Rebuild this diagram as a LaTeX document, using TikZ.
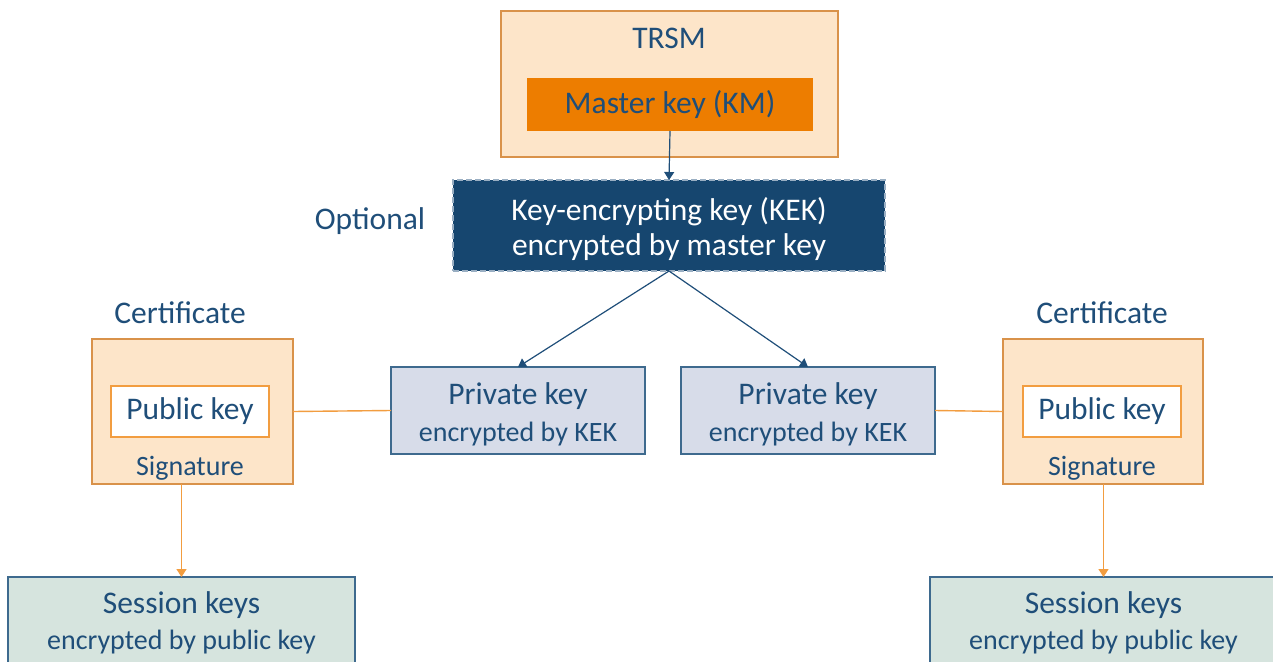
\documentclass[tikz,border=0pt]{standalone}
\usepackage{fontspec}
\setmainfont{Carlito}
\usetikzlibrary{arrows.meta}

\definecolor{kblue}{HTML}{1F4E79}
\definecolor{kekfill}{HTML}{16466F}
\definecolor{korange}{HTML}{ED7D00}
\definecolor{certfill}{HTML}{FDE5C9}
\definecolor{certline}{HTML}{D9924A}
\definecolor{privfill}{HTML}{D7DCE9}
\definecolor{sessfill}{HTML}{D6E4DE}
\definecolor{boxline}{HTML}{3E6A8E}

\newcommand{\smalltext}[1]{{\fontsize{28}{34}\selectfont #1}}
\newcommand{\lowered}[1]{\raisebox{-4pt}[\height][\depth]{#1}}

\tikzset{
  big/.style={font=\fontsize{31.5}{36}\selectfont},
  small/.style={font=\fontsize{28}{34}\selectfont},
  box/.style={inner sep=0pt, outer sep=0pt, line width=1.2pt},
  certbox/.style={box, draw=certline, fill=certfill},
  keybox/.style={box, draw=boxline, fill=privfill, align=center, text=kblue, font=\fontsize{31.5}{37}\selectfont},
  sessbox/.style={box, draw=boxline, fill=sessfill, align=center, text=kblue, font=\fontsize{31.5}{36}\selectfont},
  blueline/.style={draw=kblue, line width=1.2pt, -{Triangle[width=10pt,length=8pt]}},
  orangeline/.style={draw=korange!75!white, line width=1.4pt},
}

\begin{document}
\begin{tikzpicture}[x=1pt,y=1pt,yscale=-1]
\useasboundingbox (0,0) rectangle (1273,661);

%Shape: TRSM
\node [certbox, minimum width=337pt, minimum height=146pt] (trsm) at (669.5,84) {};
\node [big, text=kblue] (trsmlabel) at (669,38) {TRSM};
\node [box, fill=korange, minimum width=286pt, minimum height=53pt, big, text=kblue] (master) at (670,104.5) {Master key (KM)};

%Shape: KEK
\node [box, fill=kekfill, draw=kblue!45!white, dash pattern=on 6pt off 3pt, minimum width=432pt, minimum height=91pt, text=white, align=center, font=\fontsize{31.5}{35}\selectfont] (kek) at (669,225.5) {\lowered{Key-encrypting key (KEK)}\\\lowered{encrypted by master key}};
% Text Node
\node [big, text=kblue] (optional) at (370,221) {Optional};

%Shape: private keys
\node [keybox, minimum width=254pt, minimum height=87pt] (privleft) at (518,410.5) {\lowered{Private key}\\\lowered{\smalltext{encrypted by KEK}}};
\node [keybox, minimum width=254pt, minimum height=87pt] (privright) at (808,410.5) {\lowered{Private key}\\\lowered{\smalltext{encrypted by KEK}}};

%Shape: left certificate
\node [big, text=kblue] (certleftlabel) at (180,313) {Certificate};
\node [certbox, minimum width=201pt, minimum height=145pt] (certleft) at (192.5,411.5) {};
\node [box, draw=korange!75!white, fill=white, minimum width=158pt, minimum height=51pt, big, text=kblue] (publeft) at (190,411.5) {Public key};
\node [small, text=kblue] (sigleft) at (190,468) {Signature};

%Shape: right certificate
\node [big, text=kblue] (certrightlabel) at (1102,313) {Certificate};
\node [certbox, minimum width=200pt, minimum height=145pt] (certright) at (1103,411.5) {};
\node [box, draw=korange!75!white, fill=white, minimum width=158pt, minimum height=51pt, big, text=kblue] (pubright) at (1102,411.5) {Public key};
\node [small, text=kblue] (sigright) at (1102,468) {Signature};

%Shape: session keys
\node [sessbox, minimum width=347pt, minimum height=91pt] (sessleft) at (181.5,622.5) {Session keys\\\smalltext{encrypted by public key}};
\node [sessbox, minimum width=347pt, minimum height=91pt] (sessright) at (1103.5,622.5) {Session keys\\\smalltext{encrypted by public key}};

%Straight Lines
\draw [blueline] (master.south) -- (kek.north);
\draw [blueline] (kek.south) -- (privleft.north);
\draw [blueline] (kek.south) -- (privright.north);
\draw [orangeline] (certleft.east) -- (privleft.west);
\draw [orangeline] (privright.east) -- (certright.west);
\draw [orangeline, -{Triangle[width=10pt,length=8pt]}] (sessleft.north |- certleft.south) -- (sessleft.north);
\draw [orangeline, -{Triangle[width=10pt,length=8pt]}] (sessright.north |- certright.south) -- (sessright.north);

\end{tikzpicture}
\end{document}
